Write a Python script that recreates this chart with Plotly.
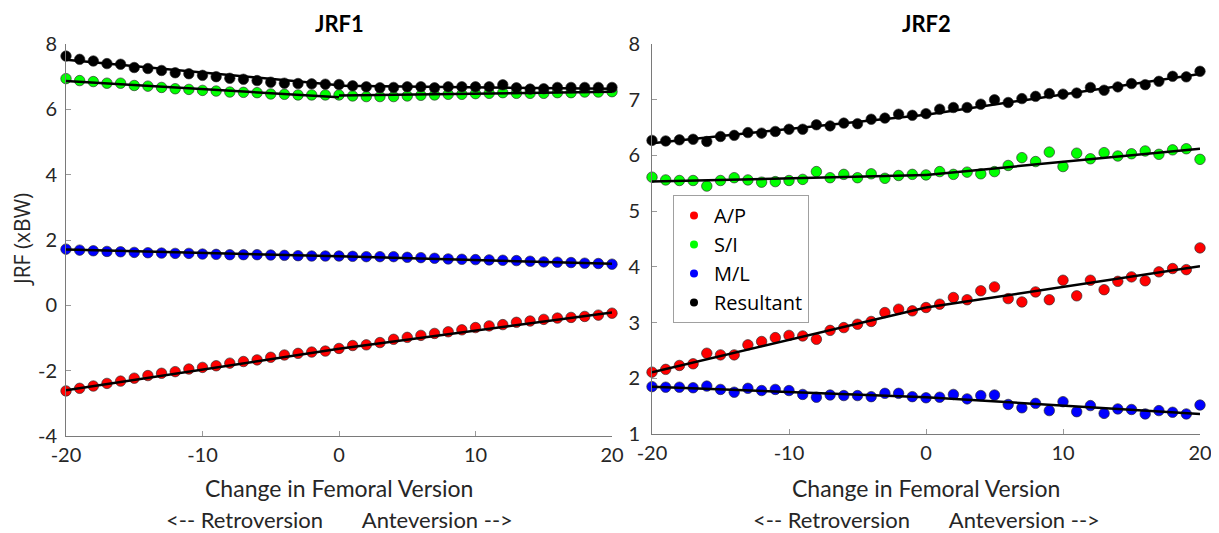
import plotly.graph_objects as go

# ---------------- data ----------------
version = list(range(-20, 21))

# JRF1 (left panel)
jrf1_ap = [-2.62, -2.54, -2.47, -2.39, -2.32, -2.23, -2.15, -2.08, -2.03, -1.95,
           -1.90, -1.85, -1.77, -1.72, -1.67, -1.59, -1.52, -1.47, -1.43, -1.40,
           -1.32, -1.23, -1.21, -1.14, -1.04, -0.98, -0.92, -0.86, -0.81, -0.75,
           -0.68, -0.63, -0.59, -0.52, -0.48, -0.43, -0.39, -0.37, -0.34, -0.30, -0.24]
jrf1_si = [6.94, 6.88, 6.85, 6.80, 6.80, 6.73, 6.71, 6.67, 6.63, 6.61,
           6.58, 6.56, 6.53, 6.52, 6.51, 6.47, 6.46, 6.44, 6.44, 6.44,
           6.44, 6.41, 6.39, 6.39, 6.39, 6.41, 6.43, 6.44, 6.46, 6.46,
           6.48, 6.49, 6.51, 6.49, 6.49, 6.49, 6.51, 6.51, 6.53, 6.53, 6.54]
jrf1_ml = [1.72, 1.69, 1.67, 1.65, 1.64, 1.62, 1.61, 1.60, 1.59, 1.59,
           1.57, 1.56, 1.55, 1.55, 1.55, 1.54, 1.53, 1.52, 1.51, 1.51,
           1.51, 1.50, 1.49, 1.49, 1.49, 1.47, 1.46, 1.44, 1.42, 1.41,
           1.40, 1.39, 1.38, 1.37, 1.35, 1.33, 1.32, 1.31, 1.29, 1.28, 1.26]
jrf1_res = [7.63, 7.53, 7.48, 7.40, 7.38, 7.28, 7.25, 7.19, 7.12, 7.09,
            7.04, 7.00, 6.95, 6.92, 6.88, 6.83, 6.80, 6.79, 6.78, 6.77,
            6.76, 6.72, 6.69, 6.66, 6.67, 6.69, 6.69, 6.66, 6.69, 6.69,
            6.69, 6.69, 6.75, 6.66, 6.62, 6.63, 6.67, 6.67, 6.67, 6.67, 6.67]

# JRF2 (right panel)
jrf2_ap = [2.11, 2.16, 2.23, 2.26, 2.45, 2.42, 2.42, 2.60, 2.66, 2.73,
           2.77, 2.76, 2.70, 2.86, 2.91, 2.97, 3.02, 3.18, 3.24, 3.21,
           3.27, 3.33, 3.45, 3.41, 3.57, 3.64, 3.43, 3.37, 3.55, 3.41,
           3.76, 3.48, 3.76, 3.59, 3.74, 3.82, 3.75, 3.91, 3.97, 3.95, 4.34]
jrf2_si = [5.61, 5.56, 5.55, 5.55, 5.45, 5.55, 5.60, 5.56, 5.52, 5.53,
           5.55, 5.57, 5.71, 5.60, 5.66, 5.60, 5.67, 5.59, 5.64, 5.66,
           5.65, 5.71, 5.66, 5.70, 5.67, 5.71, 5.82, 5.96, 5.89, 6.06,
           5.80, 6.04, 5.94, 6.05, 5.99, 6.03, 6.08, 6.02, 6.10, 6.12, 5.93]
jrf2_ml = [1.85, 1.84, 1.84, 1.83, 1.86, 1.80, 1.75, 1.82, 1.78, 1.80,
           1.78, 1.71, 1.66, 1.70, 1.69, 1.69, 1.67, 1.73, 1.73, 1.67,
           1.65, 1.66, 1.71, 1.63, 1.69, 1.70, 1.53, 1.47, 1.55, 1.42,
           1.58, 1.40, 1.51, 1.37, 1.45, 1.44, 1.36, 1.42, 1.39, 1.36, 1.52]
jrf2_res = [6.27, 6.26, 6.28, 6.29, 6.25, 6.34, 6.36, 6.41, 6.40, 6.43,
            6.47, 6.47, 6.55, 6.53, 6.58, 6.57, 6.65, 6.67, 6.74, 6.72,
            6.75, 6.83, 6.86, 6.86, 6.92, 7.00, 6.95, 7.02, 7.06, 7.11,
            7.10, 7.12, 7.22, 7.17, 7.23, 7.29, 7.27, 7.33, 7.42, 7.41, 7.51]

# fitted trend lines: two segments (retroversion / anteversion)
fit_x = [-20, 0, None, 0, 20]
fit1_ap = [-2.60, -1.33, None, -1.33, -0.22]
fit1_si = [6.87, 6.37, None, 6.42, 6.54]
fit1_ml = [1.71, 1.50, None, 1.50, 1.27]
fit1_res = [7.52, 6.74, None, 6.72, 6.63]
fit2_ap = [2.11, 3.27, None, 3.27, 4.01]
fit2_si = [5.53, 5.65, None, 5.65, 6.12]
fit2_ml = [1.85, 1.66, None, 1.66, 1.36]
fit2_res = [6.22, 6.73, None, 6.73, 7.46]

series_names = ["A/P", "S/I", "M/L", "Resultant"]
series_colors = ["#ff0000", "#00ff00", "#0000ff", "#000000"]
x_ticks = [-20, -10, 0, 10, 20]
x_ticktext = ["-20", "-10", "0", "10", "20"]
y1_ticks = [-4, -2, 0, 2, 4, 6, 8]
y1_ticktext = ["-4", "-2", "0", "2", "4", "6", "8"]
y2_ticks = [1, 2, 3, 4, 5, 6, 7, 8]
y2_ticktext = ["1", "2", "3", "4", "5", "6", "7", "8"]

# ---------------- figure ----------------
# the page body adds an 8 px offset, so the figure is drawn 8 px smaller
OFF = 8
W, H = 1219 - OFF, 533 - OFF


def px(x):
    return (x - OFF) / W


def py(y):
    return 1 - (y - OFF) / H


fig = go.Figure()

panels = [
    ("x", "y", [jrf1_ap, jrf1_si, jrf1_ml, jrf1_res], [fit1_ap, fit1_si, fit1_ml, fit1_res]),
    ("x2", "y2", [jrf2_ap, jrf2_si, jrf2_ml, jrf2_res], [fit2_ap, fit2_si, fit2_ml, fit2_res]),
]
for xa, ya, data, fits in panels:
    for vals, col in zip(data, series_colors):
        fig.add_trace(go.Scatter(
            x=version, y=vals, mode="markers", xaxis=xa, yaxis=ya,
            marker=dict(size=10.5, color=col, line=dict(width=0.8, color="rgba(40,40,40,0.8)")),
            cliponaxis=False, showlegend=False, hoverinfo="skip"))
    for f in fits:
        fig.add_trace(go.Scatter(
            x=fit_x, y=f, mode="lines", xaxis=xa, yaxis=ya,
            line=dict(color="black", width=2.5), cliponaxis=False,
            showlegend=False, hoverinfo="skip"))

# legend entries
for i, (nm, col) in enumerate(zip(series_names, series_colors)):
    fig.add_trace(go.Scatter(
        x=[None], y=[None], mode="markers", xaxis="x2", yaxis="y2",
        marker=dict(size=8, color=col), name=nm, legendgroup=f"g{i}",
        showlegend=True))

axis_font = dict(family="Lato, Carlito, sans-serif", size=20, color="#262626")
common_x = dict(range=[-20, 20], tickvals=x_ticks, ticktext=x_ticktext, showline=True,
                linecolor="#7a7a7a", linewidth=1, ticks="inside", ticklen=5,
                tickcolor="#9a9a9a", showgrid=False, zeroline=False, tickfont=axis_font,
                ticklabelstandoff=1, automargin=False)
common_y = dict(showline=True, linecolor="#7a7a7a", linewidth=1, ticks="inside",
                ticklen=5, tickcolor="#9a9a9a", showgrid=False, zeroline=False,
                tickfont=axis_font, automargin=False)

fig.update_layout(
    width=W, height=H, margin=dict(l=0, r=0, t=0, b=0, autoexpand=False),
    paper_bgcolor="white", plot_bgcolor="white",
    xaxis=dict(domain=[px(66), px(612)], anchor="y", **common_x),
    yaxis=dict(domain=[py(436), py(44)], anchor="x", range=[-4, 8],
               tickvals=y1_ticks, ticktext=y1_ticktext, ticklabelstandoff=4, **common_y),
    xaxis2=dict(domain=[px(652), px(1200)], anchor="y2", **common_x),
    yaxis2=dict(domain=[py(434), py(44)], anchor="x2", range=[1, 8],
                tickvals=y2_ticks, ticktext=y2_ticktext, ticklabelstandoff=7, **common_y),
    legend=dict(x=px(673), y=py(195), xanchor="left", yanchor="top",
                bgcolor="white", bordercolor="#a0a0a0", borderwidth=1,
                font=dict(family="Open Sans, sans-serif", size=20, color="#000000"),
                tracegroupgap=0),
    showlegend=True,
)

title_font = dict(family="Lato, sans-serif", size=22, color="#000000")
lab_font = dict(family="Lato, sans-serif", size=23, color="#262626")
lab2_font = dict(family="Lato, sans-serif", size=22, color="#262626")
nb = "\u00a0"
line2 = "&lt;-- Retroversion" + nb * 7 + "Anteversion --&gt;"
annos = [
    dict(text="<b>JRF1</b>", x=px(339), y=py(23), font=title_font),
    dict(text="<b>JRF2</b>", x=px(926), y=py(23), font=title_font),
    dict(text="Change in Femoral Version", x=px(339), y=py(488), font=lab_font),
    dict(text=line2, x=px(339), y=py(519), font=lab2_font),
    dict(text="Change in Femoral Version", x=px(926), y=py(488), font=lab_font),
    dict(text=line2, x=px(926), y=py(519), font=lab2_font),
    dict(text="JRF (xBW)", x=px(22), y=py(240), textangle=-90,
         font=dict(family="Open Sans, sans-serif", size=21, color="#262626")),
]
for a in annos:
    fig.add_annotation(xref="paper", yref="paper", showarrow=False,
                       xanchor="center", yanchor="middle", **a)

fig.write_html("out.html")
